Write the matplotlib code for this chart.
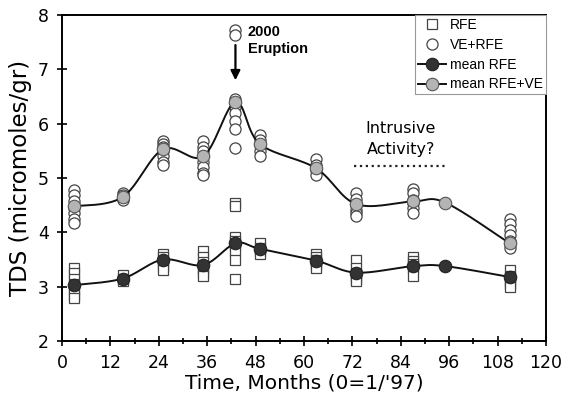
import numpy as np
import matplotlib
matplotlib.use('Agg')
import matplotlib.pyplot as plt
from matplotlib.lines import Line2D
from matplotlib import font_manager

# sampling months
months = [3, 15, 25, 35, 43, 49, 63, 73, 87, 95, 111]

# individual samples, RFE (squares)
rfe = {
	3: [3.35, 3.25, 3.15, 3.05, 2.95, 2.85, 2.8],
	15: [3.22, 3.15, 3.1],
	25: [3.6, 3.55, 3.45, 3.38, 3.3],
	35: [3.65, 3.55, 3.45, 3.35, 3.25, 3.2],
	43: [4.55, 4.48, 3.92, 3.85, 3.75, 3.65, 3.5, 3.15],
	49: [3.8, 3.72, 3.65, 3.6],
	63: [3.6, 3.55, 3.5, 3.45, 3.4, 3.35],
	73: [3.5, 3.35, 3.25, 3.2, 3.15, 3.1],
	87: [3.55, 3.48, 3.42, 3.35, 3.2],
	111: [3.3, 3.2, 3.1, 3.05, 3.0],
}
# individual samples, VE+RFE (circles)
ve_rfe = {
	3: [4.78, 4.68, 4.58, 4.45, 4.35, 4.25, 4.18],
	15: [4.72, 4.68, 4.62, 4.6],
	25: [5.68, 5.62, 5.58, 5.5, 5.4, 5.3, 5.25],
	35: [5.68, 5.58, 5.5, 5.4, 5.3, 5.2, 5.1, 5.05],
	43: [7.72, 7.63, 6.45, 6.3, 6.2, 6.05, 5.9, 5.55],
	49: [5.8, 5.7, 5.6, 5.5, 5.4],
	63: [5.35, 5.25, 5.15, 5.05],
	73: [4.72, 4.62, 4.5, 4.42, 4.35, 4.3],
	87: [4.8, 4.72, 4.6, 4.55, 4.45, 4.35],
	111: [4.25, 4.15, 4.05, 3.95, 3.85, 3.78, 3.72],
}
mean_rfe = [3.03, 3.15, 3.5, 3.4, 3.8, 3.7, 3.48, 3.26, 3.38, 3.38, 3.18]
mean_rfe_ve = [4.48, 4.65, 5.53, 5.4, 6.4, 5.63, 5.18, 4.52, 4.57, 4.55, 3.8]

def smooth(xs, ys, n=30):
	# bezier smoothing through the means, like a spreadsheet "smoothed line"
	p = np.column_stack([xs, ys]).astype(float)
	p = np.vstack([p[0], p, p[-1]])
	out = []
	t = np.linspace(0, 1, n)[:, None]
	for i in range(1, len(p) - 2):
		p0, p1, p2, p3 = p[i-1], p[i], p[i+1], p[i+2]
		c1 = p1 + (p2 - p0) / 6.0
		c2 = p2 - (p3 - p1) / 6.0
		seg = (1-t)**3*p1 + 3*(1-t)**2*t*c1 + 3*(1-t)*t**2*c2 + t**3*p2
		out.append(seg)
	out = np.vstack(out)
	return out[:, 0], out[:, 1]

# narrow face for the legend and the eruption note, if there is one
names = set(f.name for f in font_manager.fontManager.ttflist)
if 'Liberation Sans Narrow' in names:
	narrow = ['Liberation Sans Narrow', 'DejaVu Sans']
	legsize, notesize = 11.5, 11.5
else:
	narrow = ['Liberation Sans', 'DejaVu Sans']
	legsize, notesize = 10, 10.5

plt.rcParams['font.family'] = ['DejaVu Sans']
fig = plt.figure(figsize=(5.64, 4.08), dpi=100)
ax = fig.add_axes([0.110, 0.164, 0.858, 0.799])

sq_style = dict(marker='s', ms=7, mfc='white', mec='#444444', mew=0.9)
ci_style = dict(marker='o', ms=8, mfc='white', mec='#444444', mew=0.9)
mr_style = dict(marker='o', ms=9, mfc='#333333', mec='#222222', mew=0.8)
mv_style = dict(marker='o', ms=9, mfc='#b4b4b4', mec='#555555', mew=0.8)

for m in rfe:
	ax.plot([m]*len(rfe[m]), rfe[m], ls='none', zorder=2, **sq_style)
for m in ve_rfe:
	ax.plot([m]*len(ve_rfe[m]), ve_rfe[m], ls='none', zorder=2, **ci_style)

sx, sy = smooth(months, mean_rfe)
ax.plot(sx, sy, '-', color='#111111', lw=1.4, zorder=3)
ax.plot(months, mean_rfe, ls='none', zorder=4, **mr_style)
sx, sy = smooth(months, mean_rfe_ve)
ax.plot(sx, sy, '-', color='#111111', lw=1.4, zorder=3)
ax.plot(months, mean_rfe_ve, ls='none', zorder=4, **mv_style)

ax.set_xlim(0, 120)
ax.set_ylim(2, 8)
ax.set_xticks(np.arange(0, 121, 12))
ax.set_xticks(np.arange(0, 121, 6), minor=True)
ax.set_yticks(np.arange(2, 9, 1))
ax.tick_params(axis='both', which='major', direction='inout', length=7, width=1.2, labelsize=12.5, pad=6)
ax.tick_params(axis='x', which='minor', direction='inout', length=5, width=1.2)
for s in ax.spines.values():
	s.set_linewidth(1.4)
ax.set_xlabel("Time, Months (0=1/'97)", fontsize=14.5, labelpad=1)
ax.set_ylabel('TDS (micromoles/gr)', fontsize=16.5, labelpad=4)

# eruption marker
ax.annotate('', xy=(43, 6.75), xytext=(43, 7.5),
	arrowprops=dict(arrowstyle='-|>', color='black', lw=1.6, mutation_scale=14))
ax.text(46, 7.53, '2000\nEruption', fontsize=notesize, fontweight='bold', family=narrow,
	ha='left', va='center', linespacing=1.25)

ax.text(84, 5.72, 'Intrusive\nActivity?', fontsize=11.5, ha='center', va='center', linespacing=1.45)
ax.plot([72.3, 95], [5.22, 5.22], ':', color='#222222', lw=1.6)

handles = [
	Line2D([], [], ls='none', **sq_style),
	Line2D([], [], ls='none', **ci_style),
	Line2D([], [], color='#111111', lw=1.4, **mr_style),
	Line2D([], [], color='#111111', lw=1.4, **mv_style),
]
leg = ax.legend(handles, ['RFE', 'VE+RFE', 'mean RFE', 'mean RFE+VE'],
	loc='upper right', bbox_to_anchor=(1.0, 1.0), fancybox=False, framealpha=1,
	edgecolor='#999999', handlelength=2.0, handletextpad=0.3, borderpad=0.2,
	labelspacing=0.42, borderaxespad=0.0, prop={'family': narrow, 'size': legsize})
leg.get_frame().set_linewidth(0.8)

fig.savefig('out.png', dpi=100)
